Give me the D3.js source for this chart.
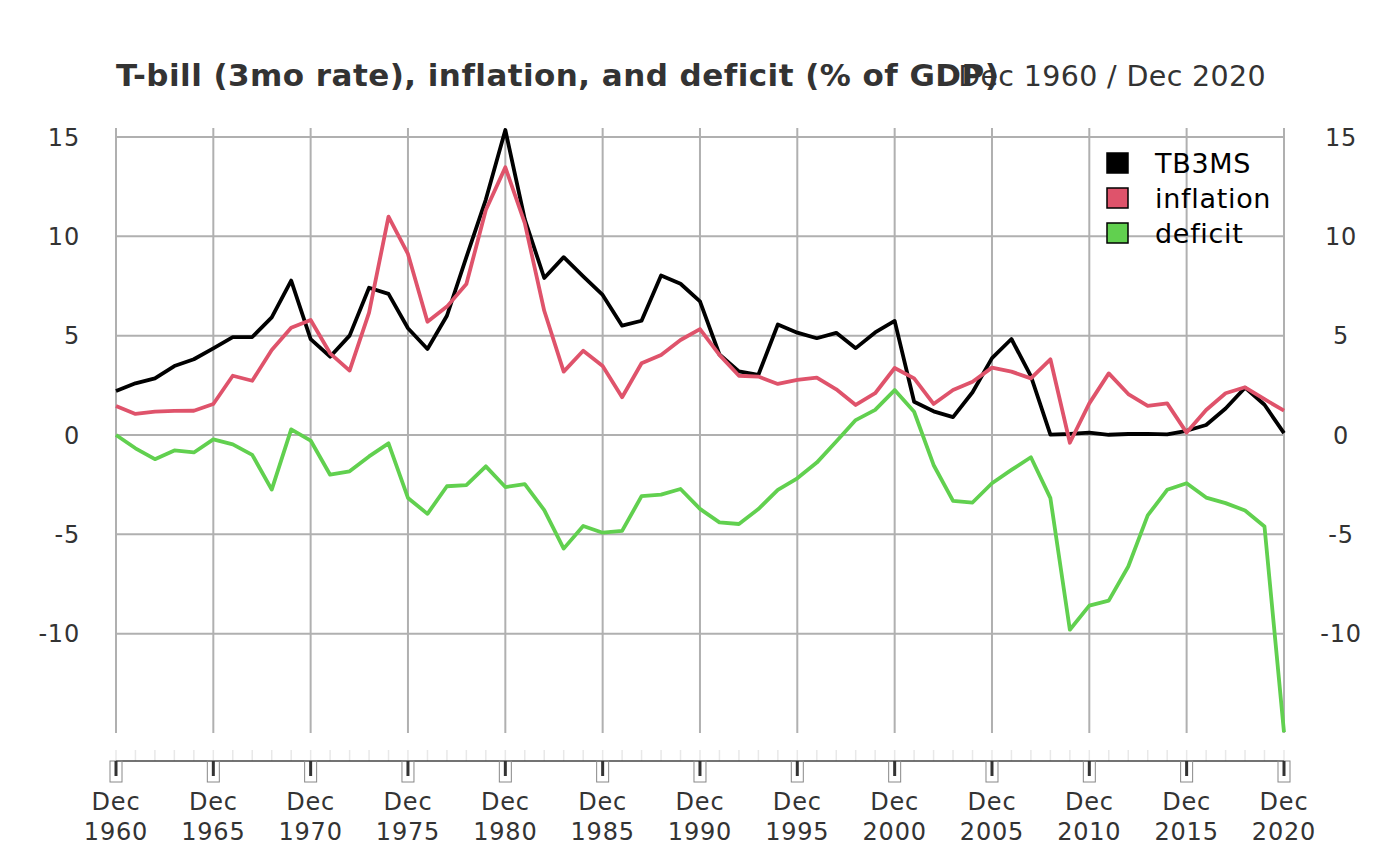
<!DOCTYPE html>
<html><head><meta charset="utf-8">
<script src="https://cdn.jsdelivr.net/npm/d3@7"></script>
<style>
body{margin:0;background:#fff;}
svg{display:block;font-family:"DejaVu Sans",sans-serif;}
</style></head>
<body><svg id="c" width="1400" height="865"></svg>
<script>
const years = d3.range(1960, 2021);
const seriesNames = ["TB3MS", "inflation", "deficit"];
const seriesColors = ["#000000", "#DF536B", "#61D04F"];
const tb3ms = [2.21,2.60,2.85,3.47,3.81,4.36,4.92,4.93,5.92,7.77,
  4.82,3.94,5.00,7.41,7.10,5.37,4.33,6.00,8.95,11.85,
  15.35,10.85,7.90,8.95,7.98,7.05,5.50,5.75,8.03,7.61,
  6.72,4.05,3.20,3.03,5.56,5.15,4.87,5.14,4.37,5.16,
  5.74,1.67,1.19,0.90,2.15,3.87,4.83,2.96,0.02,0.05,
  0.12,0.01,0.05,0.06,0.03,0.21,0.50,1.33,2.38,1.52,0.09];
const inflation = [1.46,1.06,1.17,1.21,1.22,1.56,2.98,2.73,4.28,5.40,
  5.79,4.11,3.24,6.16,10.99,9.11,5.70,6.46,7.60,11.32,
  13.47,10.66,6.25,3.19,4.24,3.47,1.90,3.61,4.03,4.78,
  5.33,4.03,2.98,2.94,2.57,2.77,2.89,2.30,1.51,2.10,
  3.37,2.85,1.56,2.26,2.68,3.39,3.19,2.85,3.81,-0.39,
  1.59,3.10,2.06,1.46,1.59,0.12,1.26,2.10,2.40,1.80,1.22];
const deficit = [0.00,-0.67,-1.22,-0.78,-0.88,-0.22,-0.47,-1.00,-2.75,0.28,
  -0.28,-2.00,-1.83,-1.08,-0.42,-3.17,-3.97,-2.58,-2.52,-1.58,
  -2.62,-2.47,-3.78,-5.72,-4.58,-4.92,-4.83,-3.08,-3.00,-2.72,
  -3.72,-4.40,-4.48,-3.73,-2.76,-2.18,-1.39,-0.33,0.75,1.26,
  2.26,1.17,-1.51,-3.32,-3.40,-2.43,-1.76,-1.12,-3.18,-9.80,
  -8.59,-8.34,-6.62,-4.05,-2.76,-2.43,-3.15,-3.43,-3.80,-4.61,-14.96];
const yTicks = [-10, -5, 0, 5, 10, 15];
const xTickYears = d3.range(1960, 2021, 5);
const titleText = "T-bill (3mo rate), inflation, and deficit (% of GDP)";
const rangeText = "Dec 1960 / Dec 2020";

const allSeries = [tb3ms, inflation, deficit];
const svg = d3.select("#c");
const L = 116, R = 1284, T = 128, B = 733;
const toDate = y => new Date(y, 11, 1);
const x = d3.scaleTime().domain([toDate(1960), toDate(2020)]).range([L, R]);
const y = d3.scaleLinear().domain([-15.0, 15.45]).range([B, T]);

// grid
const grid = svg.append("g").attr("stroke", "#b0b0b0").attr("stroke-width", 2);
yTicks.forEach(v => grid.append("line").attr("x1", L).attr("x2", R).attr("y1", y(v)).attr("y2", y(v)));
xTickYears.forEach(v => grid.append("line").attr("x1", x(toDate(v))).attr("x2", x(toDate(v))).attr("y1", T).attr("y2", B));

// series lines
const line = d3.line().x((d, i) => x(toDate(years[i]))).y(d => y(d));
allSeries.forEach((s, k) => {
  svg.append("path").datum(s).attr("d", line).attr("fill", "none")
    .attr("stroke", seriesColors[k]).attr("stroke-width", 3.8).attr("stroke-linejoin", "round");
});

// y labels left and right
const ylab = svg.append("g").attr("fill", "#333").attr("font-size", 24).attr("letter-spacing", 0.8);
yTicks.forEach(v => {
  ylab.append("text").attr("x", 80).attr("y", y(v)).attr("dy", "0.36em").attr("text-anchor", "end").text(v);
  ylab.append("text").attr("x", 1341).attr("y", y(v)).attr("dy", "0.36em").attr("text-anchor", "middle").text(v);
});
// x axis
const ax = svg.append("g");
years.forEach(v => ax.append("line").attr("x1", x(toDate(v))).attr("x2", x(toDate(v)))
  .attr("y1", 750).attr("y2", 761).attr("stroke", "#e8e8e8").attr("stroke-width", 1.5));
ax.append("line").attr("x1", L).attr("x2", R).attr("y1", 761).attr("y2", 761).attr("stroke", "#444").attr("stroke-width", 1.5);
xTickYears.forEach(v => {
  const px = x(toDate(v));
  ax.append("rect").attr("x", px - 6).attr("y", 761).attr("width", 12).attr("height", 21)
    .attr("fill", "none").attr("stroke", "#888").attr("stroke-width", 1);
  ax.append("line").attr("x1", px).attr("x2", px).attr("y1", 761).attr("y2", 776)
    .attr("stroke", "#333").attr("stroke-width", 3);
  const t = ax.append("text").attr("x", px).attr("text-anchor", "middle").attr("fill", "#333")
    .attr("font-size", 24).attr("letter-spacing", 0.8);
  t.append("tspan").attr("x", px).attr("y", 810).text("Dec");
  t.append("tspan").attr("x", px).attr("y", 840).text(v);
});

// title
svg.append("text").attr("x", 116).attr("y", 86).attr("font-weight", "bold").attr("font-size", 31)
  .attr("letter-spacing", 0.45).attr("fill", "#333").text(titleText);
svg.append("text").attr("x", 1266).attr("y", 86).attr("text-anchor", "end").attr("font-size", 28.5)
  .attr("letter-spacing", 0.35).attr("fill", "#333").text(rangeText);

// legend
const lg = svg.append("g");
seriesNames.forEach((n, k) => {
  const cy = 163 + k * 35;
  lg.append("rect").attr("x", 1107).attr("y", cy - 10).attr("width", 21).attr("height", 20)
    .attr("fill", seriesColors[k]).attr("stroke", "#000").attr("stroke-width", 1.5);
  lg.append("text").attr("x", 1155).attr("y", cy).attr("dy", "0.36em").attr("font-size", 27)
    .attr("letter-spacing", 0.7).attr("fill", "#000").text(n);
});
</script></body></html>
